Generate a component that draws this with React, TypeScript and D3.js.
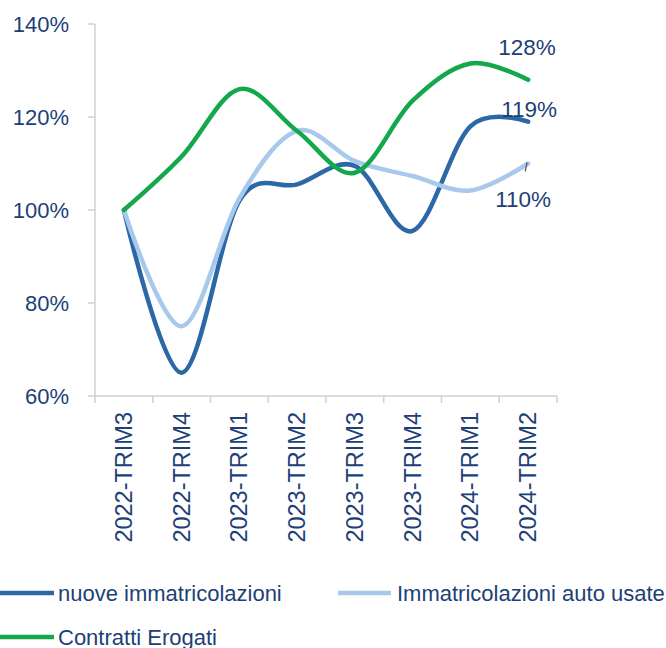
import React from 'react';
import * as d3 from 'd3';

const categories = ['2022-TRIM3', '2022-TRIM4', '2023-TRIM1', '2023-TRIM2', '2023-TRIM3', '2023-TRIM4', '2024-TRIM1', '2024-TRIM2'];
const nuove = [100, 65, 102, 105.5, 109.5, 95.5, 118, 119];
const usate = [100, 75, 102.5, 117, 110.5, 107.3, 104.2, 110];
const contratti = [100, 111.5, 126, 117, 108, 123.5, 131.5, 128];
const yTicks = [60, 80, 100, 120, 140];

const series = [
  { name: 'nuove immatricolazioni', values: nuove, color: '#2c67a6' },
  { name: 'Immatricolazioni auto usate', values: usate, color: '#a9c9ec' },
  { name: 'Contratti Erogati', values: contratti, color: '#12a84b' },
];

const W = 666, H = 648;
const textColor = '#203f77';
const font = '"Liberation Sans", Arial, sans-serif';

const App = () => {
  const x = d3.scaleBand().domain(categories).range([95, 557]);
  const y = d3.scaleLinear().domain([60, 140]).range([396, 24]);
  const cx = (c: string) => (x(c) as number) + x.bandwidth() / 2;

  const line = d3.line<number>()
    .x((_, i) => cx(categories[i]))
    .y(d => y(d))
    .curve(d3.curveCatmullRom.alpha(0));

  const last = categories[categories.length - 1];
  const lx = cx(last);
  // end labels, offset from the last point
  const endLabels = [
    { v: contratti[7], dx: -30, dy: -25 },
    { v: nuove[7], dx: -27, dy: -5 },
    { v: usate[7], dx: -33, dy: 43 },
  ];

  return (
    <svg width={W} height={H} style={{ position: 'absolute', left: 0, top: 0, background: '#fff' }}
      fontFamily={font}>
      {/* y axis */}
      <line x1={95} x2={95} y1={y(140)} y2={y(60)} stroke="#d0d0d0" strokeWidth={1.5} />
      {yTicks.map(t => (
        <g key={t}>
          <line x1={88} x2={95} y1={y(t)} y2={y(t)} stroke="#d0d0d0" strokeWidth={1.5} />
          <text x={69} y={y(t)} textAnchor="end" dominantBaseline="central" fontSize={22} fill={textColor}>{t}%</text>
        </g>
      ))}
      {/* x axis */}
      <line x1={95} x2={557} y1={y(60)} y2={y(60)} stroke="#d0d0d0" strokeWidth={1.5} />
      {categories.map(c => (
        <line key={'t' + c} x1={x(c)} x2={x(c)} y1={y(60)} y2={y(60) + 7} stroke="#d0d0d0" strokeWidth={1.5} />
      ))}
      <line x1={557} x2={557} y1={y(60)} y2={y(60) + 7} stroke="#d0d0d0" strokeWidth={1.5} />
      {categories.map(c => (
        <text key={c} transform={`translate(${cx(c)},${y(60) + 16}) rotate(-90)`} textAnchor="end"
          dominantBaseline="central" fontSize={23.5} fill={textColor}>{c}</text>
      ))}
      {/* lines */}
      {series.map(s => (
        <path key={s.name} d={line(s.values) || ''} fill="none" stroke={s.color} strokeWidth={4.5}
          strokeLinecap="round" strokeLinejoin="round" />
      ))}
      {/* leader */}
      <line x1={lx - 3} x2={lx - 1} y1={y(usate[7]) + 8} y2={y(usate[7]) - 1} stroke="#555" strokeWidth={1.2} />
      {endLabels.map((l, i) => (
        <text key={i} x={lx + l.dx} y={y(l.v) + l.dy} fontSize={22.5} fill={textColor}>{Math.round(l.v)}%</text>
      ))}
      {/* legend */}
      <line x1={0} x2={54} y1={593} y2={593} stroke={series[0].color} strokeWidth={4.5} />
      <text x={58} y={593} dominantBaseline="central" fontSize={22} fill={textColor}>{series[0].name}</text>
      <line x1={338} x2={391} y1={593} y2={593} stroke={series[1].color} strokeWidth={4.5} />
      <text x={397} y={593} dominantBaseline="central" fontSize={22} fill={textColor}>{series[1].name}</text>
      <line x1={0} x2={54} y1={637} y2={637} stroke={series[2].color} strokeWidth={4.5} />
      <text x={58} y={637} dominantBaseline="central" fontSize={22} fill={textColor}>{series[2].name}</text>
    </svg>
  );
};

export default App;
